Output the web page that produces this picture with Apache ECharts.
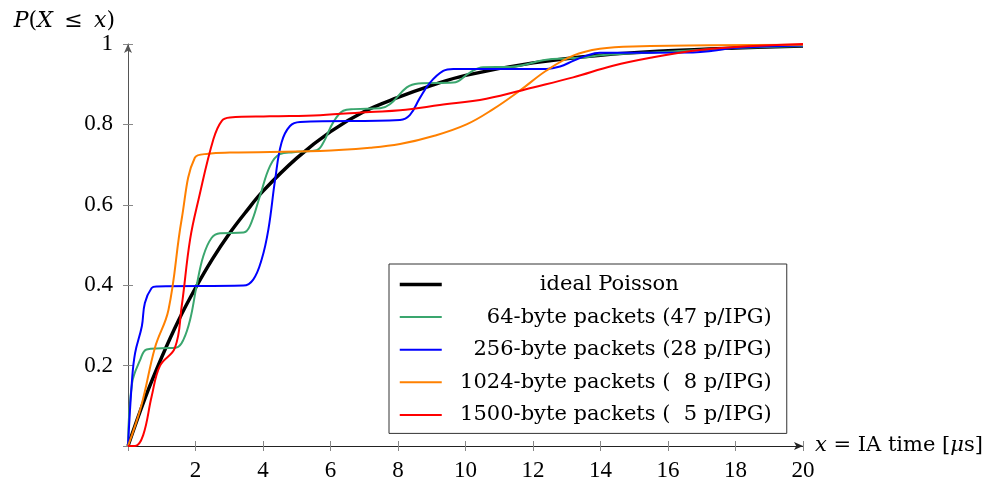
<!DOCTYPE html>
<html>
<head>
<meta charset="utf-8">
<script src="https://cdn.jsdelivr.net/npm/echarts@6/dist/echarts.min.js"></script>
<style>
  html, body { margin: 0; padding: 0; background: #fff; }
  #chart { width: 995px; height: 483px; }
</style>
</head>
<body>
<div id="chart"></div>
<script>
// 数据（从图中读取的 [x, P] 点）
const seriesNames = [
  'ideal Poisson',
  '64-byte packets (47 p/IPG)',
  '256-byte packets (28 p/IPG)',
  '1024-byte packets (  8 p/IPG)',
  '1500-byte packets (  5 p/IPG)'
]
const poisson = [[0, 0], [0.5, 0.118], [1, 0.221], [1.5, 0.313], [2, 0.393], [2.5, 0.465], [3, 0.528],
  [3.5, 0.583], [4, 0.634], [5, 0.716], [6, 0.782], [7, 0.832], [8, 0.867], [9, 0.897], [10, 0.922],
  [12, 0.953], [14, 0.972], [16, 0.983], [18, 0.99], [20, 0.995]]
const bytes64 = [[0, 0], [0.12, 0.156], [0.36, 0.214], [0.55, 0.24], [1.0, 0.243], [1.44, 0.245], [1.64, 0.264],
  [1.84, 0.314], [2.03, 0.397], [2.23, 0.472], [2.48, 0.518], [2.73, 0.529], [3.42, 0.531], [3.61, 0.547],
  [3.91, 0.622], [4.21, 0.697], [4.5, 0.726], [4.9, 0.731], [5.59, 0.736], [5.79, 0.755], [6.08, 0.805],
  [6.38, 0.834], [6.68, 0.838], [7.47, 0.84], [7.76, 0.85], [8.26, 0.892], [8.6, 0.902], [9.64, 0.904],
  [10.13, 0.929], [10.52, 0.942], [11.31, 0.943], [12.4, 0.961], [12.99, 0.964], [13.58, 0.967],
  [14, 0.972], [16, 0.981], [18, 0.99], [20, 0.995]]
const bytes256 = [[0, 0], [0.12, 0.165], [0.21, 0.231], [0.41, 0.298], [0.5, 0.356], [0.7, 0.393], [0.85, 0.397],
  [3.42, 0.399], [3.71, 0.414], [3.96, 0.464], [4.16, 0.539], [4.36, 0.663], [4.55, 0.755], [4.8, 0.796],
  [5.1, 0.806], [8.06, 0.811], [8.35, 0.823], [8.65, 0.866], [8.95, 0.904], [9.34, 0.933], [9.64, 0.938],
  [12.4, 0.938], [12.8, 0.944], [13.19, 0.958], [13.58, 0.971], [13.98, 0.978], [16.74, 0.979],
  [17.33, 0.983], [17.92, 0.99], [20, 0.996]]
const bytes1024 = [[0, 0], [0.4, 0.102], [0.8, 0.245], [1.2, 0.339], [1.59, 0.564], [1.98, 0.717], [2.38, 0.727],
  [3.02, 0.73], [5.69, 0.734], [7.17, 0.742], [8.06, 0.751], [9.05, 0.771], [10.03, 0.8], [10.82, 0.838],
  [11.61, 0.884], [12.4, 0.934], [13.19, 0.971], [13.98, 0.988], [14.96, 0.994], [20, 0.998]]
const bytes1500 = [[0, 0], [0.21, 0], [0.45, 0.027], [0.7, 0.123], [0.95, 0.2], [1.39, 0.244], [1.59, 0.347],
  [1.84, 0.514], [2.09, 0.613], [2.53, 0.763], [2.78, 0.809], [3.02, 0.817], [4.2, 0.82], [5.69, 0.823],
  [7.17, 0.831], [8.06, 0.835], [9.24, 0.848], [10.62, 0.864], [12.0, 0.892], [13.19, 0.917],
  [14.37, 0.946], [15.56, 0.967], [16.74, 0.983], [17.92, 0.992], [20, 1.0]]
const colors = ['#000000', '#3aa66e', '#0000ff', '#ff8000', '#ff0000']
const widths = [3.5, 2, 2, 2, 2]
const allData = [poisson, bytes64, bytes256, bytes1024, bytes1500]

const numFont = 'Liberation Serif'
const txtFont = 'DejaVu Serif'
const chart = echarts.init(document.getElementById('chart'))

const series = allData.map((d, i) => ({
  name: seriesNames[i],
  type: 'line',
  data: d,
  symbol: 'none',
  smooth: 0.4,
  color: colors[i],
  lineStyle: { width: widths[i], color: colors[i] },
  xAxisIndex: 0,
  yAxisIndex: 0
}))

const option = {
  animation: false,
  textStyle: { fontFamily: numFont },
  grid: { left: 128, right: 192, top: 44, bottom: 37 },
  legend: {
    data: seriesNames.map((n, i) => ({ name: n, lineStyle: { width: widths[i] } })),
    orient: 'vertical',
    left: 389,
    top: 264,
    padding: [10, 15, 8, 9],
    itemGap: 11.6,
    itemWidth: 42,
    itemHeight: 1,
    borderColor: '#333',
    borderWidth: 1,
    backgroundColor: '#fff',
    formatter: function (name) {
      return name === 'ideal Poisson' ? '{c|' + name + '}' : '{r|' + name + '}'
    },
    textStyle: {
      fontFamily: txtFont,
      fontSize: 21,
      color: '#000',
      rich: {
        c: { width: 325, align: 'center', fontSize: 21, lineHeight: 24, fontFamily: txtFont },
        r: { width: 325, align: 'right', fontSize: 21, lineHeight: 24, fontFamily: txtFont }
      }
    }
  },
  xAxis: [{
    type: 'value',
    min: 0,
    max: 20,
    interval: 2,
    name: '{i|x} = IA time [{i|μ}s]',
    nameLocation: 'end',
    nameGap: 12,
    nameTextStyle: {
      fontFamily: txtFont, fontSize: 21, color: '#000',
      rich: { i: { fontStyle: 'italic', fontFamily: txtFont, fontSize: 21 } }
    },
    axisLine: { lineStyle: { color: '#222', width: 1 }, symbol: ['none', 'arrow'], symbolSize: [6, 9] },
    axisTick: { length: 5, lineStyle: { color: '#888' } },
    axisLabel: {
      fontSize: 23, color: '#000', margin: 13, fontFamily: numFont,
      formatter: v => (v === 0 ? '' : String(v))
    },
    splitLine: { show: false }
  }, {
    type: 'value',
    min: 0,
    max: 20,
    interval: 2,
    position: 'bottom',
    axisLine: { show: false },
    axisTick: { inside: true, length: 5, lineStyle: { color: '#888' } },
    axisLabel: { show: false },
    splitLine: { show: false }
  }],
  yAxis: [{
    type: 'value',
    min: 0,
    max: 1,
    interval: 0.2,
    name: '{i|P}({i|X} \u2009≤\u2009 {i|x})',
    nameLocation: 'end',
    nameGap: 10,
    nameTextStyle: {
      fontFamily: txtFont, fontSize: 22, color: '#000', align: 'right', padding: [0, 13, 0, 0],
      rich: { i: { fontStyle: 'italic', fontFamily: txtFont, fontSize: 22 } }
    },
    axisLine: { show: true, lineStyle: { color: '#555', width: 1 }, symbol: ['none', 'arrow'], symbolSize: [6, 9] },
    axisTick: { show: true, length: 5, lineStyle: { color: '#888' } },
    axisLabel: {
      fontSize: 23, color: '#000', margin: 15, fontFamily: numFont,
      formatter: v => (v === 0 ? '' : (v === 1 ? '1' : v.toFixed(1)))
    },
    splitLine: { show: false }
  }, {
    type: 'value',
    min: 0,
    max: 1,
    interval: 0.2,
    position: 'left',
    axisLine: { show: false },
    axisTick: { show: true, inside: true, length: 5, lineStyle: { color: '#888' } },
    axisLabel: { show: false },
    splitLine: { show: false }
  }],
  series: series
}

chart.setOption(option)
</script>
</body>
</html>
